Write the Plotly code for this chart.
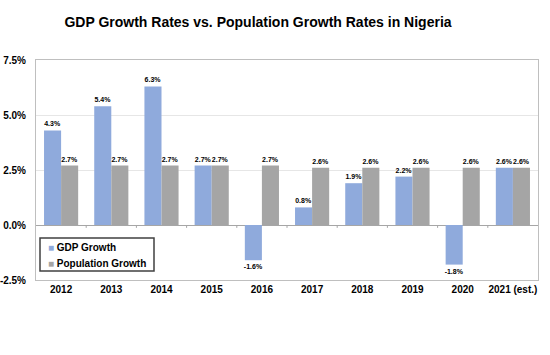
import plotly.graph_objects as go

years = ["2012", "2013", "2014", "2015", "2016", "2017", "2018", "2019", "2020", "2021 (est.)"]
gdp_growth = [4.3, 5.4, 6.3, 2.7, -1.6, 0.8, 1.9, 2.2, -1.8, 2.6]
pop_growth = [2.7, 2.7, 2.7, 2.7, 2.7, 2.6, 2.6, 2.6, 2.6, 2.6]
y_ticks = [-2.5, 0.0, 2.5, 5.0, 7.5]
y_tick_labels = ["-2.5%", "0.0%", "2.5%", "5.0%", "7.5%"]
series_names = ["GDP Growth", "Population Growth"]
series_colors = ["#8FAADC", "#A5A5A5"]

FONT = "Liberation Sans, Arial, sans-serif"

W, H = 550, 355
L, R, T, B = 36, 12, 60, 75
PW, PH = W - L - R, H - T - B


def px_x(p):  # pixel -> paper x
    return (p - L) / PW


def px_y(p):  # pixel -> paper y
    return (H - B - p) / PH


fig = go.Figure()
for name, vals, col in zip(series_names, [gdp_growth, pop_growth], series_colors):
    fig.add_trace(go.Bar(
        x=years, y=vals, name=name,
        marker=dict(color=col, line=dict(width=0)),
        texttemplate="%{y:.1f}%", textposition="outside", constraintext="none",
        textfont=dict(size=7, family=FONT, color="#000000", weight="bold"),
        cliponaxis=False,
    ))

# tick marks hanging from the zero line at category boundaries
shapes = []
for i in range(len(years) - 1):
    shapes.append(dict(type="line", xref="x", yref="y", x0=i + 0.5, x1=i + 0.5,
                       y0=0, y1=-0.13, line=dict(color="#A6A6A6", width=1)))

# legend box
shapes.append(dict(type="rect", xref="paper", yref="paper",
                   x0=px_x(40), x1=px_x(154), y0=px_y(271), y1=px_y(238),
                   line=dict(color="#404040", width=1.5), fillcolor="white", layer="above"))

annotations = []
for k, (name, col) in enumerate(zip(series_names, series_colors)):
    yc = 247 + k * 16
    annotations.append(dict(
        xref="paper", yref="paper", x=px_x(46), y=px_y(yc),
        xanchor="left", yanchor="middle", showarrow=False,
        text=f"<span style='color:{col}'>■</span> {name}",
        font=dict(size=10, family=FONT, color="#000000", weight="bold"),
    ))

fig.update_layout(
    width=W, height=H,
    margin=dict(l=L, r=R, t=T, b=B),
    paper_bgcolor="white", plot_bgcolor="white",
    barmode="group", bargap=0.32, bargroupgap=0,
    title=dict(text="GDP Growth Rates vs. Population Growth Rates in Nigeria",
               x=258 / W, xanchor="center", y=1 - 22 / H, yanchor="middle",
               font=dict(size=14, family=FONT, color="#000000", weight="bold")),
    showlegend=False,
    shapes=shapes,
    annotations=annotations,
    font=dict(family=FONT),
)
fig.update_xaxes(
    automargin=False,
    showline=True, linecolor="#BFBFBF", linewidth=1, mirror=True,
    ticks="", showgrid=False,
    tickfont=dict(size=10, family=FONT, color="#000000", weight="bold"),
)
fig.update_yaxes(
    automargin=False,
    range=[-2.5, 7.5], tickvals=y_ticks, ticktext=y_tick_labels,
    showline=True, linecolor="#BFBFBF", linewidth=1, mirror=True,
    showgrid=True, gridcolor="#E6E6E6", gridwidth=1,
    zeroline=True, zerolinecolor="#A6A6A6", zerolinewidth=1,
    ticks="", ticklabelstandoff=7,
    tickfont=dict(size=10, family=FONT, color="#000000", weight="bold"),
)

fig.write_html("out.html", config={"displayModeBar": False},
               post_script="document.body.style.margin='0';")
